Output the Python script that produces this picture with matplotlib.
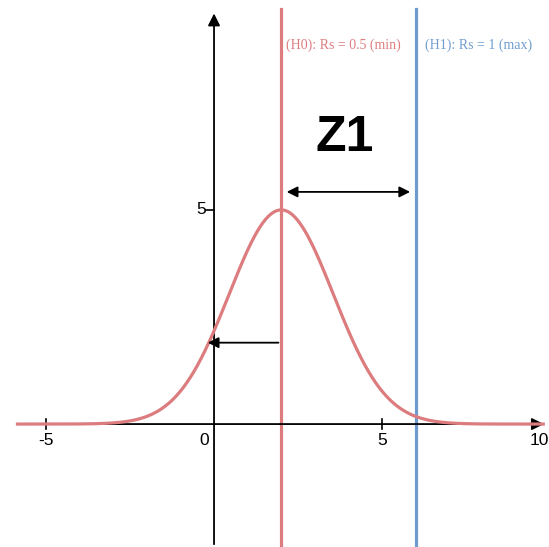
import matplotlib.pyplot as plt
import numpy as np

# curve parameters (normal shape)
mu = 2.0
sigma = 1.55
peak = 5.0

h0_x = 2.0
h1_x = 6.0
h0_label = '(H0): Rs = 0.5 (min)'
h1_label = '(H1): Rs = 1 (max)'

xticks = [-5, 0, 5, 10]
yticks = [5]

red = '#dc7c7e'
blue = '#6e9ccf'

fig = plt.figure(figsize=(5.49, 5.47), dpi=100)
ax = fig.add_axes([0, 0, 1, 1])
ax.set_xlim(-6.37, 9.97)
ax.set_ylim(-2.87, 9.9)
ax.axis('off')

# axes with arrows
ax.annotate('', xy=(9.9, 0), xytext=(-5.85, 0),
            arrowprops=dict(arrowstyle='-|>', color='k', lw=1.3, mutation_scale=18))
ax.annotate('', xy=(0, 9.65), xytext=(0, -2.87),
            arrowprops=dict(arrowstyle='-|>', color='k', lw=1.3, mutation_scale=18))

# tick marks and labels
for t in xticks:
    if t == 0:
        ax.text(-0.15, -0.22, '0', ha='right', va='top', fontsize=12.5, family='Liberation Sans')
        continue
    if t < 9:
        ax.plot([t, t], [-0.12, 0.12], color='k', lw=1.2)
        ax.text(t, -0.22, str(t), ha='center', va='top', fontsize=12.5, family='Liberation Sans')
    else:
        ax.text(9.97, -0.22, str(t), ha='right', va='top', fontsize=12.5, family='Liberation Sans')
for t in yticks:
    ax.plot([-0.25, 0], [t, t], color='k', lw=1.2)
    ax.text(-0.25, t, str(t), ha='right', va='center', fontsize=12.5, family='Liberation Sans')

# curve
x = np.linspace(-5.85, 9.8, 600)
y = peak * np.exp(-(x - mu) ** 2 / (2 * sigma ** 2))
ax.plot(x, y, color=red, lw=2.3, zorder=3)

# hypothesis lines
ax.plot([h0_x, h0_x], [-2.87, 9.7], color=red, lw=2.3, zorder=2)
ax.plot([h1_x, h1_x], [-2.87, 9.7], color=blue, lw=2.3, zorder=2)
ax.text(h0_x + 0.15, 8.85, h0_label, color=red, fontsize=10, family='Liberation Serif', va='center')
ax.text(h1_x + 0.28, 8.85, h1_label, color=blue, fontsize=10, family='Liberation Serif', va='center')

# arrows
ax.annotate('', xy=(5.92, 5.42), xytext=(2.08, 5.42),
            arrowprops=dict(arrowstyle='<|-|>', color='k', lw=1.3, mutation_scale=16))
ax.annotate('', xy=(-0.27, 1.9), xytext=(2.0, 1.9),
            arrowprops=dict(arrowstyle='-|>', color='k', lw=1.3, mutation_scale=16))

ax.text(3.9, 6.67, 'Z1', fontsize=36, fontweight='bold', family='Liberation Sans',
        ha='center', va='center')

fig.savefig('out.png', dpi=100)
